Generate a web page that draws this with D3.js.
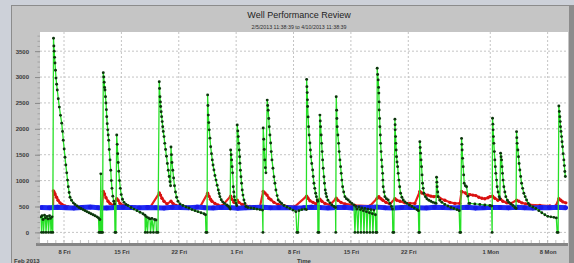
<!DOCTYPE html>
<html><head><meta charset="utf-8">
<script src="https://cdn.jsdelivr.net/npm/d3@7"></script>
<style>html,body{margin:0;padding:0;background:#cdd1d9;overflow:hidden}</style>
</head><body>
<svg id="c" width="574" height="263"></svg>
<script>
const titleText = "Well Performance Review";
const subtitleText = "2/5/2013 11:38:39 to 4/10/2013 11:38:39";
const xAxisTitle = "Time";
const xYearLabel = "Feb 2013";
const xTickDates = ["2013-02-08","2013-02-15","2013-02-22","2013-03-01","2013-03-08","2013-03-15","2013-03-22","2013-04-01","2013-04-08"];
const xTickLabels = ["8 Fri","15 Fri","22 Fri","1 Fri","8 Fri","15 Fri","22 Fri","1 Mon","8 Mon"];
const yTicks = [0,500,1000,1500,2000,2500,3000,3500];

// series: [days since 2013-02-01 00:00 UTC, value]
const greenSeries = [
[4.20,300],[4.26,0],[4.32,320],[4.44,250],[4.50,0],[4.62,330],[4.74,280],[4.80,0],[4.93,310],[5.05,260],[5.11,0],[5.23,320],[5.35,270],[5.41,0],[5.54,300],[5.63,0],
[5.72,3750],[5.76,3600],[5.80,3500],[5.85,3380],[5.90,3270],[5.96,3130],[6.02,2980],[6.10,2860],[6.18,2750],[6.30,2580],[6.43,2420],[6.57,2260],[6.72,2110],[6.82,1950],[6.91,1780],[7.02,1610],[7.12,1450],[7.22,1300],[7.33,1150],[7.43,1010],[7.52,880],[7.63,770],[7.73,680],[7.91,620],[8.13,570],[8.34,540],[8.59,510],[8.83,480],[9.07,460],[9.32,440],[9.56,420],[9.80,400],[10.05,380],[10.29,360],[10.54,340],[10.78,320],[11.02,300],[11.21,280],[11.27,0],[11.37,250],[11.43,0],[11.49,1130],[11.57,0],[11.70,0],
[11.79,3085],[11.84,3000],[11.90,2900],[11.95,2800],[12.00,2750],[12.06,2620],[12.12,2500],[12.17,2370],[12.21,2235],[12.27,2100],[12.33,1980],[12.39,1880],[12.45,1780],[12.52,1600],[12.61,1400],[12.70,1200],[12.77,1000],[12.85,850],[12.95,700],[13.07,600],[13.17,550],[13.22,0],[13.32,0],
[13.43,1880],[13.49,1700],[13.55,1520],[13.61,1350],[13.68,1180],[13.77,1000],[13.87,850],[13.98,730],[14.13,640],[14.32,580],[14.56,540],[14.80,520],[15.17,480],[15.54,450],[15.90,420],[16.27,390],[16.63,360],[16.88,330],[16.91,0],[17.06,300],[17.18,0],[17.30,280],[17.49,260],[17.55,0],[17.73,270],[17.91,0],[18.04,250],[18.22,240],[18.28,0],[18.46,0],
[18.62,2910],[18.66,2780],[18.71,2620],[18.76,2520],[18.79,2430],[18.85,2330],[18.91,2235],[18.98,2140],[19.04,2040],[19.11,1950],[19.20,1850],[19.29,1720],[19.39,1600],[19.50,1470],[19.61,1330],[19.72,1200],[19.83,1080],[19.93,980],[20.00,900],[20.05,1650],[20.11,1500],[20.17,1350],[20.27,1200],[20.37,1050],[20.48,900],[20.60,780],[20.73,680],[20.90,600],[21.15,550],[21.51,520],[21.88,490],[22.24,470],[22.61,440],[22.98,420],[23.34,400],[23.71,380],[24.07,360],[24.26,340],[24.32,0],[24.44,0],
[24.52,2655],[24.56,2450],[24.60,2265],[24.66,2120],[24.72,1980],[24.80,1820],[24.89,1655],[24.99,1520],[25.09,1400],[25.18,1300],[25.29,1205],[25.41,1100],[25.54,1010],[25.68,910],[25.82,820],[25.93,750],[26.02,690],[26.18,630],[26.35,590],[26.57,560],[26.84,530],[27.00,510],[27.18,480],[27.27,450],
[27.33,1590],[27.39,1500],[27.45,1400],[27.51,1270],[27.57,1150],[27.65,880],[27.71,780],[27.77,690],[27.85,620],[27.98,560],[28.07,520],
[28.13,2075],[28.20,1960],[28.26,1850],[28.32,1720],[28.38,1590],[28.43,1460],[28.46,1335],[28.52,1200],[28.59,1075],[28.66,950],[28.74,820],[28.83,720],[28.95,625],[29.07,560],[29.20,500],[29.44,480],[29.80,470],[30.17,460],[30.54,450],[30.90,440],[31.21,430],[31.27,0],
[31.30,2015],[31.37,1800],[31.43,1600],[31.49,1400],[31.56,1250],[31.63,1150],
[31.79,2555],[31.85,2450],[31.91,2360],[31.98,2200],[32.04,2040],[32.12,1880],[32.21,1725],[32.28,1560],[32.37,1400],[32.49,1240],[32.61,1075],[32.73,950],[32.85,820],[33.00,710],[33.13,625],[33.34,590],[33.55,560],[33.83,520],[34.20,490],[34.56,460],[34.93,430],[35.29,400],[35.41,0],[35.54,0],[35.66,420],[36.02,440],[36.39,450],[36.57,440],
[36.60,2955],[36.63,2815],[36.67,2700],[36.70,2560],[36.72,2430],[36.78,2230],[36.84,2040],[36.91,1880],[37.00,1725],[37.06,1590],[37.12,1460],[37.22,1330],[37.33,1205],[37.40,1080],[37.49,950],[37.59,850],[37.70,755],[37.79,690],[37.89,625],[37.95,600],[37.98,0],[38.10,0],
[38.22,2265],[38.26,2150],[38.30,2040],[38.37,1880],[38.43,1720],[38.49,1560],[38.55,1400],[38.62,1240],[38.71,1075],[38.78,950],[38.87,820],[38.95,750],[39.04,690],[39.20,620],[39.44,570],[39.68,530],[39.93,500],[40.12,480],[40.15,0],
[40.21,2620],[40.26,2360],[40.29,2200],[40.33,2040],[40.41,1880],[40.50,1720],[40.57,1560],[40.66,1400],[40.74,1270],[40.82,1140],[40.90,1010],[40.99,880],[41.12,780],[41.27,690],[41.45,650],[41.67,625],[41.88,590],[42.12,560],[42.37,530],[42.49,0],[42.61,500],[42.73,450],[42.85,0],[42.98,490],[43.16,440],[43.22,0],[43.34,470],[43.52,420],[43.59,0],[43.71,460],[43.89,400],[43.95,0],[44.07,450],[44.26,380],[44.32,0],[44.44,440],[44.62,360],[44.68,0],[44.80,430],[44.99,340],[45.05,0],[45.17,0],
[45.21,3170],[45.26,3050],[45.33,2945],[45.38,2800],[45.41,2690],[45.44,2520],[45.45,2365],[45.50,2200],[45.54,2040],[45.59,1880],[45.62,1720],[45.68,1560],[45.74,1400],[45.80,1270],[45.87,1140],[45.90,1010],[45.94,880],[46.05,780],[46.15,690],[46.33,650],[46.55,625],[46.76,560],[46.94,500],[47.06,450],[47.12,0],[47.24,0],
[47.37,2185],[47.39,2080],[47.40,1980],[47.45,1850],[47.49,1720],[47.52,1590],[47.57,1460],[47.63,1360],[47.70,1270],[47.77,1140],[47.85,1010],[47.95,880],[48.06,755],[48.22,680],[48.38,625],[48.59,590],[48.83,560],[49.13,530],[49.44,500],[49.74,470],[50.05,440],[50.23,420],[50.29,0],[50.37,0],
[50.41,1750],[50.45,1640],[50.50,1530],[50.56,1400],[50.62,1270],[50.68,1110],[50.74,950],[50.82,850],[50.90,755],[51.09,690],[51.27,650],[51.51,620],[51.76,600],[52.00,580],[52.24,570],[52.39,560],
[52.45,1065],[52.49,970],[52.52,880],[52.59,780],[52.65,690],[52.85,620],[53.10,580],[53.46,540],[53.83,510],[54.20,480],[54.56,460],[54.93,440],[55.21,420],[55.29,0],[55.39,0],
[55.50,1815],[55.54,1700],[55.57,1590],[55.63,1430],[55.70,1270],[55.76,1110],[55.82,950],[55.96,900],[56.11,880],[56.27,700],[56.39,560],[56.51,560],[57.12,550],[57.73,540],[58.34,530],[58.95,520],[59.17,510],[59.23,0],
[59.28,2205],[59.32,2090],[59.35,1980],[59.39,1850],[59.44,1720],[59.50,1560],[59.56,1400],[59.62,1270],[59.68,1140],[59.77,1010],[59.84,880],[59.96,780],[60.09,690],[60.17,650],
[60.26,1530],[60.32,1460],[60.38,1400],[60.44,1270],[60.50,1140],[60.57,1010],[60.66,880],[60.78,780],[60.90,690],[61.09,620],[61.27,580],[61.51,550],[61.76,520],[62.00,480],[62.15,460],
[62.21,1945],[62.24,1830],[62.28,1720],[62.37,1590],[62.45,1460],[62.52,1330],[62.61,1205],[62.71,1080],[62.82,950],[62.95,850],[63.10,755],[63.26,690],[63.43,625],[63.65,560],[63.83,520],[64.20,490],[64.56,460],[64.93,420],[65.29,380],[65.66,340],[66.02,310],[66.39,300],[66.76,290],[67.06,280],[67.16,0],[67.28,0],
[67.37,2440],[67.43,2335],[67.49,2235],[67.54,2140],[67.57,2040],[67.63,1950],[67.70,1850],[67.76,1750],[67.82,1655],[67.89,1520],[67.98,1400],[68.04,1290],[68.10,1175],[68.16,1080]
];

const redSeries = [
[4.20,480],[5.66,480],[5.70,800],[5.78,780],[5.90,740],[6.09,680],[6.27,620],[6.51,570],[6.76,540],[7.12,510],[7.49,495],[8.34,490],[9.56,485],[10.78,480],[11.63,480],
[11.79,790],[11.94,740],[12.12,670],[12.37,600],[12.61,560],[12.98,520],[13.43,650],[13.59,620],[13.83,560],[14.44,510],[15.66,490],[17.49,480],
[18.62,760],[18.77,720],[18.95,660],[19.20,600],[19.56,550],[20.05,600],[20.29,560],[20.66,520],[21.76,495],[23.59,490],
[24.52,755],[24.68,700],[24.87,640],[25.05,600],[25.41,560],[25.78,530],[26.27,510],[27.33,700],[27.49,640],[27.73,580],[28.13,620],[28.34,580],[28.71,540],[29.68,500],[30.90,495],
[31.30,790],[31.51,760],[31.76,720],[32.00,660],[32.24,630],[32.61,580],[33.10,540],[33.95,510],[35.17,500],
[36.60,700],[36.76,660],[37.00,610],[37.37,580],[37.73,550],[38.22,640],[38.46,600],[38.83,560],[39.44,530],
[40.21,660],[40.41,620],[40.78,580],[41.27,550],[42.49,520],[44.32,510],
[45.21,660],[45.41,690],[45.66,650],[45.90,620],[46.27,580],[46.76,550],[47.37,650],[47.61,620],[47.98,600],[48.59,570],[49.20,560],[49.80,560],
[50.41,790],[50.66,760],[51.02,730],[51.39,720],[51.76,700],[52.12,690],[52.49,700],[52.85,660],[53.46,620],[54.07,580],[54.68,560],[55.29,560],
[55.50,790],[55.98,760],[56.15,740],[56.51,730],[56.88,720],[57.24,710],[57.61,680],[57.98,660],[58.34,650],[58.71,670],[58.95,690],
[59.28,700],[59.56,660],[59.93,620],[60.26,640],[60.54,600],[61.02,570],[61.51,560],
[62.21,620],[62.49,600],[62.85,570],[63.34,550],[63.83,530],[65.05,520],[66.27,510],[67.00,510],
[67.37,650],[67.61,620],[67.85,590],[68.22,570]
];

const blueSeries = [
[4.2,480],[5.2,475],[6.2,485],[7.2,478],[8.2,470],[9.2,482],[10.2,488],[11.2,476],[12.2,472],[13.2,480],
[14.2,486],[15.2,479],[16.2,474],[17.2,481],[18.2,477],[19.2,470],[20.2,484],[21.2,480],[22.2,475],[23.2,488],
[24.2,478],[25.2,472],[26.2,483],[27.2,479],[28.2,468],[29.2,476],[30.2,481],[31.2,485],[32.2,474],[33.2,478],
[34.2,482],[35.2,470],[36.2,476],[37.2,487],[38.2,480],[39.2,473],[40.2,479],[41.2,484],[42.2,471],[43.2,477],
[44.2,482],[45.2,488],[46.2,475],[47.2,470],[48.2,479],[49.2,483],[50.2,476],[51.2,472],[52.2,486],[53.2,480],
[54.2,474],[55.2,478],[56.2,485],[57.2,471],[58.2,477],[59.2,483],[60.2,479],[61.2,474],[62.2,487],[63.2,476],
[64.2,470],[65.2,481],[66.2,478],[67.2,484],[68.2,476]
];

const W = 574, H = 263;
const plot = {l:40, r:568, t:32, b:243};
const base = Date.UTC(2013,1,1);
const toDate = d => new Date(base + d*86400000);

const svg = d3.select("#c");
// frame
svg.append("rect").attr("x",0).attr("y",0).attr("width",W).attr("height",H).attr("fill","#cdd1d9");
svg.append("rect").attr("x",11).attr("y",5).attr("width",W-11).attr("height",H-5).attr("fill","#8c8c8c");
svg.append("rect").attr("x",12).attr("y",6).attr("width",557).attr("height",H-6).attr("fill","#c5c5c5");
svg.append("rect").attr("x",plot.l).attr("y",plot.t).attr("width",plot.r-plot.l).attr("height",plot.b-plot.t).attr("fill","#ffffff");
svg.append("rect").attr("x",36).attr("y",243).attr("width",plot.r-36).attr("height",3).attr("fill","#858585");

const x = d3.scaleUtc().domain([new Date("2013-02-05T01:41:00Z"), new Date("2013-04-10T11:38:39Z")]).range([plot.l, plot.r]);
const y = d3.scaleLinear().domain([-205, 3870]).range([plot.b, plot.t]);
const tickDates = xTickDates.map(s => new Date(s + "T00:00:00Z"));

// grid
const grid = svg.append("g");
grid.selectAll("line.h").data(yTicks).join("line")
  .attr("x1",plot.l).attr("x2",plot.r).attr("y1",d=>y(d)).attr("y2",d=>y(d))
  .attr("stroke","#c4c4c4").attr("stroke-width",1).attr("stroke-dasharray","2,2");
grid.selectAll("line.v").data(tickDates).join("line")
  .attr("x1",d=>x(d)).attr("x2",d=>x(d)).attr("y1",plot.t).attr("y2",plot.b)
  .attr("stroke","#c4c4c4").attr("stroke-width",1).attr("stroke-dasharray","2,2");

// minor day ticks at bottom
const days = d3.utcDay.range(x.domain()[0], x.domain()[1]);
svg.append("g").selectAll("line").data(days).join("line")
  .attr("x1",d=>x(d)).attr("x2",d=>x(d)).attr("y1",plot.b-3).attr("y2",plot.b)
  .attr("stroke","#b0b0b0").attr("stroke-width",0.8);

// y axis
const yMinor = d3.range(-200, 3900, 100);
const yaMinor = svg.append("g").attr("transform",`translate(${plot.l},0)`)
  .call(d3.axisLeft(y).tickValues(yMinor).tickSize(2.5).tickFormat(""));
yaMinor.select(".domain").remove();
yaMinor.selectAll("line").attr("stroke","#9a9a9a").attr("stroke-width",0.8);
const ya = svg.append("g").attr("transform",`translate(${plot.l},0)`)
  .call(d3.axisLeft(y).tickValues(yTicks).tickSize(5).tickPadding(6).tickFormat(d3.format("d")));
ya.select(".domain").remove();
ya.selectAll("line").attr("stroke","#8a8a8a");
ya.selectAll("text").attr("font-family","Liberation Sans, Arial, sans-serif").attr("font-size","6px")
  .attr("font-weight","bold").attr("fill","#3a3a3a");

// x axis
const xa = svg.append("g").attr("transform",`translate(0,${plot.b})`)
  .call(d3.axisBottom(x).tickValues(tickDates).tickFormat((d,i)=>xTickLabels[i]).tickSize(0).tickPadding(7));
xa.select(".domain").remove();
xa.selectAll("text").attr("font-family","Liberation Sans, Arial, sans-serif").attr("font-size","5.8px")
  .attr("font-weight","bold").attr("fill","#3a3a3a");

// titles
const ff = "Liberation Sans, Arial, sans-serif";
svg.append("text").attr("x",299).attr("y",18).attr("text-anchor","middle").attr("font-family",ff)
  .attr("font-size","9px").attr("fill","#1e1e1e").text(titleText);
svg.append("text").attr("x",299).attr("y",28.5).attr("text-anchor","middle").attr("font-family",ff)
  .attr("font-size","5.3px").attr("fill","#2e2e2e").text(subtitleText);
svg.append("text").attr("x",304).attr("y",262.5).attr("text-anchor","middle").attr("font-family",ff)
  .attr("font-size","6px").attr("font-weight","bold").attr("fill","#3a3a3a").text(xAxisTitle);
svg.append("text").attr("x",14).attr("y",262.5).attr("font-family",ff)
  .attr("font-size","6px").attr("font-weight","bold").attr("fill","#3a3a3a").text(xYearLabel);

// series
svg.append("clipPath").attr("id","clip").append("rect")
  .attr("x",plot.l).attr("y",plot.t).attr("width",plot.r-plot.l).attr("height",plot.b-plot.t);
const layer = svg.append("g").attr("clip-path","url(#clip)");
const line = d3.line().x(d=>x(toDate(d[0]))).y(d=>y(d[1]));

function drawSeries(data, stroke, sw, fill, r) {
  const g = layer.append("g");
  g.append("path").datum(data).attr("d",line).attr("fill","none").attr("stroke",stroke).attr("stroke-width",sw)
    .attr("stroke-linejoin","round");
  g.selectAll("circle").data(data).join("circle")
    .attr("cx",d=>x(toDate(d[0]))).attr("cy",d=>y(d[1])).attr("r",r).attr("fill",fill);
}
drawSeries(redSeries, "#e8201c", 2.2, "#d81010", 1.7);
drawSeries(blueSeries, "#1f2bf5", 5, "#1a1ae8", 2.4);
drawSeries(greenSeries, "#27e027", 1.3, "#0c360c", 1.45);
</script>
</body></html>
